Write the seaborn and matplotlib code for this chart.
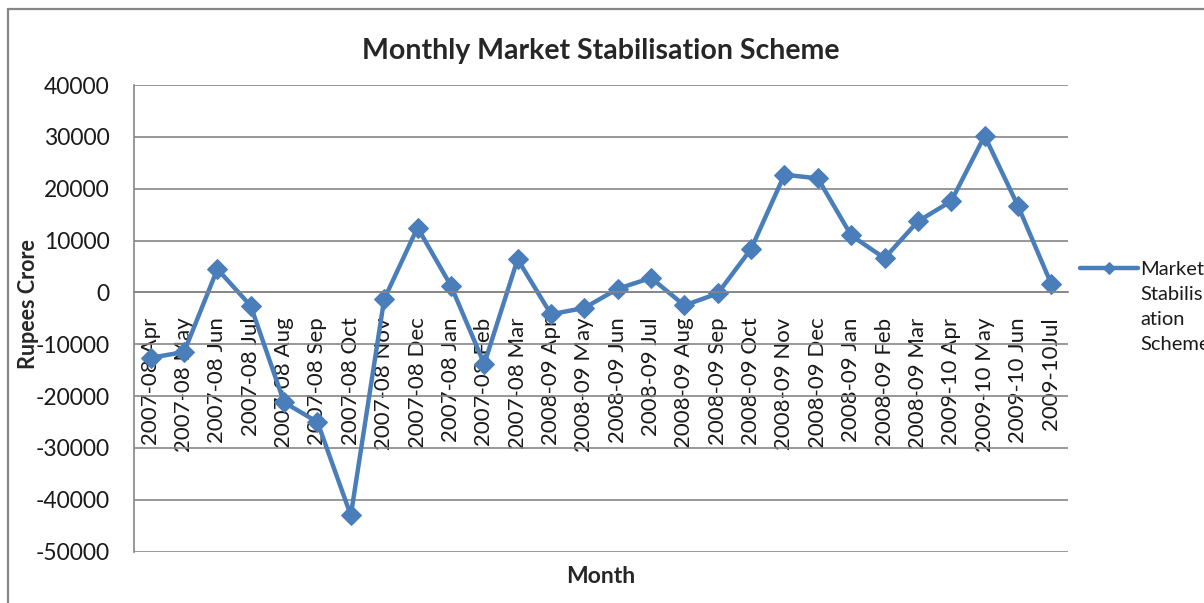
import numpy as np
import pandas as pd
import seaborn as sns
import matplotlib.pyplot as plt
from matplotlib.lines import Line2D

# valori (Rupees Crore)
months = ['2007-08 Apr', '2007-08 May', '2007-08 Jun', '2007-08 Jul', '2007-08 Aug',
          '2007-08 Sep', '2007-08 Oct', '2007-08 Nov', '2007-08 Dec', '2007-08 Jan',
          '2007-08 Feb', '2007-08 Mar', '2008-09 Apr', '2008-09 May', '2008-09 Jun',
          '2008-09 Jul', '2008-09 Aug', '2008-09 Sep', '2008-09 Oct', '2008-09 Nov',
          '2008-09 Dec', '2008-09 Jan', '2008-09 Feb', '2008-09 Mar', '2009-10 Apr',
          '2009-10 May', '2009-10 Jun', '2009-10Jul']
mss_values = [-12600, -11500, 4500, -2600, -21200, -25000, -43000, -1300, 12500, 1300,
              -13800, 6400, -4200, -3000, 700, 2800, -2500, -200, 8400, 22700,
              22000, 11000, 6600, 13700, 17600, 30200, 16700, 1600]
y_ticks = [40000, 30000, 20000, 10000, 0, -10000, -20000, -30000, -40000, -50000]

serie = 'Market\nStabilis\nation\nScheme'
df = pd.DataFrame({'Month': months, 'val': mss_values, 'serie': serie})

sns.set_theme(style="white")
plt.rcParams['font.family'] = ['Lato', 'DejaVu Sans']
plt.rcParams['axes.unicode_minus'] = False

gri = '#868686'
albastru = '#4A7EBB'

fig = plt.figure(figsize=(12.04, 6.03), dpi=100)
ax = fig.add_axes([134 / 1204, 51.3 / 603, (1068 - 134) / 1204, (551.7 - 85) / 603])

sns.lineplot(data=df, x='Month', y='val', hue='serie', palette=[albastru], sort=False,
             marker='D', markersize=10, markeredgecolor=albastru, linewidth=3.2, ax=ax)

ax.set_xlim(-0.5, len(months) - 0.5)
ax.set_ylim(-50000, 40000)
ax.set_yticks(y_ticks)
ax.yaxis.grid(True, color=gri, linewidth=1.2)
ax.set_axisbelow(True)

# axa x trece prin zero, ca in Excel
for s in ['top', 'right']:
    ax.spines[s].set_visible(False)
ax.spines['bottom'].set_position(('data', 0))
ax.spines['bottom'].set_color(gri)
ax.spines['left'].set_color(gri)
ax.spines['bottom'].set_linewidth(1.2)
ax.spines['left'].set_linewidth(1.2)

ax.tick_params(axis='y', direction='out', length=6.5, width=1.2, color=gri,
               labelsize=16.5, pad=11, labelcolor='#1a1a1a')
ax.tick_params(axis='x', length=0, pad=18, labelsize=16, labelcolor='#1a1a1a')
plt.setp(ax.get_xticklabels(), rotation=90, va='top', ha='center')

ax.set_title('Monthly Market Stabilisation Scheme', fontsize=20.5, fontweight='bold', pad=19)
ax.set_xlabel('Month', fontsize=16.5, fontweight='bold')
ax.set_ylabel('Rupees Crore', fontsize=15.5, fontweight='bold')
ax.xaxis.set_label_coords(0.5, -0.03)
ax.yaxis.set_label_coords(-0.102, 0.53)

leg = ax.legend(loc='upper left', bbox_to_anchor=(1080 / 1204, 1 - 261 / 603),
                bbox_transform=fig.transFigure, frameon=False, fontsize=14.5,
                handlelength=2.9, handletextpad=0.1, borderpad=0, borderaxespad=0)
for t in leg.get_texts():
    t.set_linespacing(1.58)
    t.set_color('#1a1a1a')
for h in leg.legend_handles:
    h.set_markersize(6)
for col in leg._legend_handle_box.get_children():
    for row in col.get_children():
        row.align = 'top'

# chenarul graficului
fig.add_artist(Line2D([8 / 1204, 8 / 1204], [0, 1 - 9 / 603], transform=fig.transFigure,
                      color=gri, linewidth=1.6))
fig.add_artist(Line2D([8 / 1204, 1], [1 - 9 / 603, 1 - 9 / 603], transform=fig.transFigure,
                      color=gri, linewidth=1.6))

fig.savefig('out.png', dpi=100)
